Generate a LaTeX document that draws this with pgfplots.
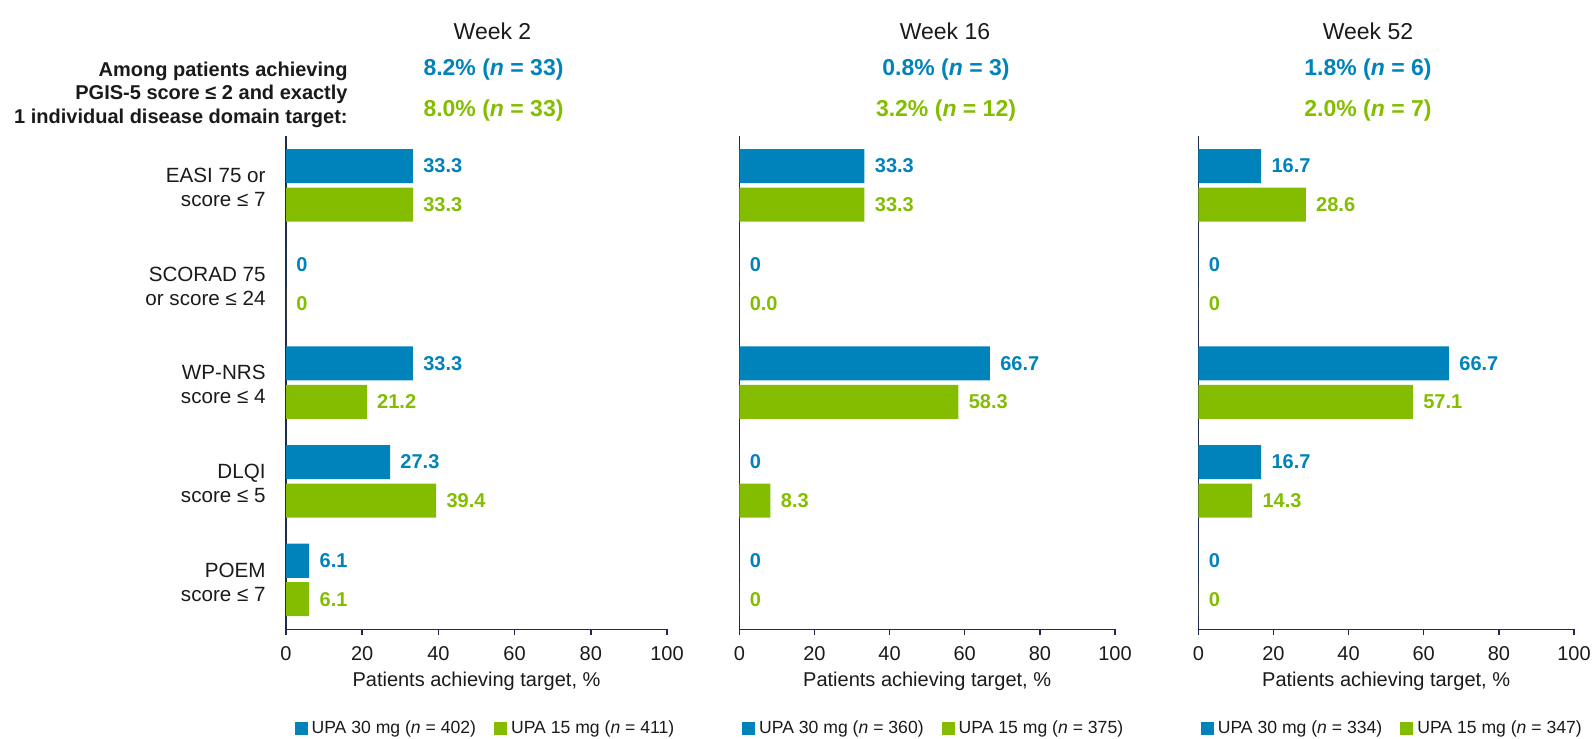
\documentclass[border=0pt]{standalone}
\usepackage{pgfplots}
\pgfplotsset{compat=1.18}
\usepackage{fontspec}
\setmainfont{Liberation Sans}
\definecolor{upablue}{HTML}{0082BA}
\definecolor{upagreen}{HTML}{84BD00}
\definecolor{axisnavy}{HTML}{1F2B4D}
\definecolor{txt}{HTML}{1A1A1A}

\pgfplotsset{
  panelstyle/.style={
    scale only axis, height=246.65pt,
    xmin=0, xmax=100, ymin=-0.5, ymax=4.5,
    enlargelimits=false,
    axis x line*=bottom, axis y line*=left,
    axis line style={-, draw=axisnavy, line width=0.75pt},
    xtick={0,20,40,60,80,100}, xtick pos=bottom, tick align=outside,
    major tick length=3pt,
    xtick style={draw=axisnavy, line width=0.75pt},
    ytick={0,1,2,3,4}, ytick style={draw=none}, ytick pos=left,
    /pgf/number format/assume math mode=true,
    xticklabel style={font=\fontsize{10}{12}\selectfont, text=txt, yshift=-2pt},
    yticklabel style={font=\fontsize{10.3}{12}\selectfont, text=txt, align=right, xshift=-3.7pt, yshift=-1pt},
    xlabel={Patients achieving target, \%},
    xlabel style={font=\fontsize{10}{12}\selectfont, text=txt, at={(axis description cs:0.5,0)}, anchor=center, yshift=-25.85pt},
    xbar, bar width=0.345,
    point meta=explicit symbolic,
    nodes near coords={\pgfplotspointmeta},
    every node near coord/.append style={font=\fontsize{10}{12}\bfseries\selectfont, anchor=west, xshift=1.7pt},
    legend style={draw=none, fill=none, legend columns=2, anchor=center,
      font=\fontsize{8.8}{10}\selectfont, text=txt,
      /tikz/every even column/.append style={column sep=7pt}},
  },
  blueplot/.style={fill=upablue, draw=none, bar shift=0.195,
    every node near coord/.append style={text=upablue},
    legend image code/.code={\fill[upablue] (0pt,-3.25pt) rectangle (6.5pt,3.25pt);}},
  greenplot/.style={fill=upagreen, draw=none, bar shift=-0.195,
    every node near coord/.append style={text=upagreen},
    legend image code/.code={\fill[upagreen] (0pt,-3.25pt) rectangle (6.5pt,3.25pt);}},
}

\begin{document}
\begin{tikzpicture}
\path[use as bounding box] (0,0) rectangle (796.5pt,-369pt);

% Titles
\node[font=\fontsize{11.5}{14}\selectfont, text=txt] at (246.25pt,-15.5pt) {Week 2};
\node[font=\fontsize{11.5}{14}\selectfont, text=txt] at (472.5pt,-15.5pt) {Week 16};
\node[font=\fontsize{11.5}{14}\selectfont, text=txt] at (684pt,-15.5pt) {Week 52};

\node[font=\fontsize{11.5}{14}\bfseries\selectfont, text=upablue] at (246.75pt,-35pt) {8.2\% (\textit{n} = 33)};
\node[font=\fontsize{11.5}{14}\bfseries\selectfont, text=upagreen] at (246.75pt,-55.5pt) {8.0\% (\textit{n} = 33)};
\node[font=\fontsize{11.5}{14}\bfseries\selectfont, text=upablue] at (473pt,-35pt) {0.8\% (\textit{n} = 3)};
\node[font=\fontsize{11.5}{14}\bfseries\selectfont, text=upagreen] at (473pt,-55.5pt) {3.2\% (\textit{n} = 12)};
\node[font=\fontsize{11.5}{14}\bfseries\selectfont, text=upablue] at (684pt,-35pt) {1.8\% (\textit{n} = 6)};
\node[font=\fontsize{11.5}{14}\bfseries\selectfont, text=upagreen] at (684pt,-55.5pt) {2.0\% (\textit{n} = 7)};

\node[anchor=east, align=right, inner sep=0pt, text=txt, font=\fontsize{10}{11.75}\bfseries\selectfont] at (174pt,-47.25pt)
  {Among patients achieving\\PGIS-5 score ≤ 2 and exactly\\1 individual disease domain target:};

% Week 2
\begin{axis}[panelstyle, width=190.5pt, at={(143pt,-314.65pt)}, anchor=south west,
  yticklabels={{POEM\\score ≤ 7},{DLQI\\score ≤ 5},{WP-NRS\\score ≤ 4},{SCORAD 75\\or score ≤ 24},{EASI 75 or\\score ≤ 7}},
  legend style={at={(0.526,-0.201)}}]
\addplot[blueplot] coordinates {(33.3,4) [33.3] (0,3) [0] (33.3,2) [33.3] (27.3,1) [27.3] (6.1,0) [6.1]};
\addplot[greenplot] coordinates {(33.3,4) [33.3] (0,3) [0] (21.2,2) [21.2] (39.4,1) [39.4] (6.1,0) [6.1]};
\legend{UPA 30 mg (\textit{n} = 402), UPA 15 mg (\textit{n} = 411)}
\end{axis}

% Week 16
\begin{axis}[panelstyle, width=187.85pt, at={(369.65pt,-314.65pt)}, anchor=south west,
  yticklabels={},
  legend style={at={(0.52,-0.201)}}]
\addplot[blueplot] coordinates {(33.3,4) [33.3] (0,3) [0] (66.7,2) [66.7] (0,1) [0] (0,0) [0]};
\addplot[greenplot] coordinates {(33.3,4) [33.3] (0,3) [0.0] (58.3,2) [58.3] (8.3,1) [8.3] (0,0) [0]};
\legend{UPA 30 mg (\textit{n} = 360), UPA 15 mg (\textit{n} = 375)}
\end{axis}

% Week 52
\begin{axis}[panelstyle, width=187.85pt, at={(599.15pt,-314.65pt)}, anchor=south west,
  yticklabels={},
  legend style={at={(0.519,-0.201)}}]
\addplot[blueplot] coordinates {(16.7,4) [16.7] (0,3) [0] (66.7,2) [66.7] (16.7,1) [16.7] (0,0) [0]};
\addplot[greenplot] coordinates {(28.6,4) [28.6] (0,3) [0] (57.1,2) [57.1] (14.3,1) [14.3] (0,0) [0]};
\legend{UPA 30 mg (\textit{n} = 334), UPA 15 mg (\textit{n} = 347)}
\end{axis}
\end{tikzpicture}
\end{document}
